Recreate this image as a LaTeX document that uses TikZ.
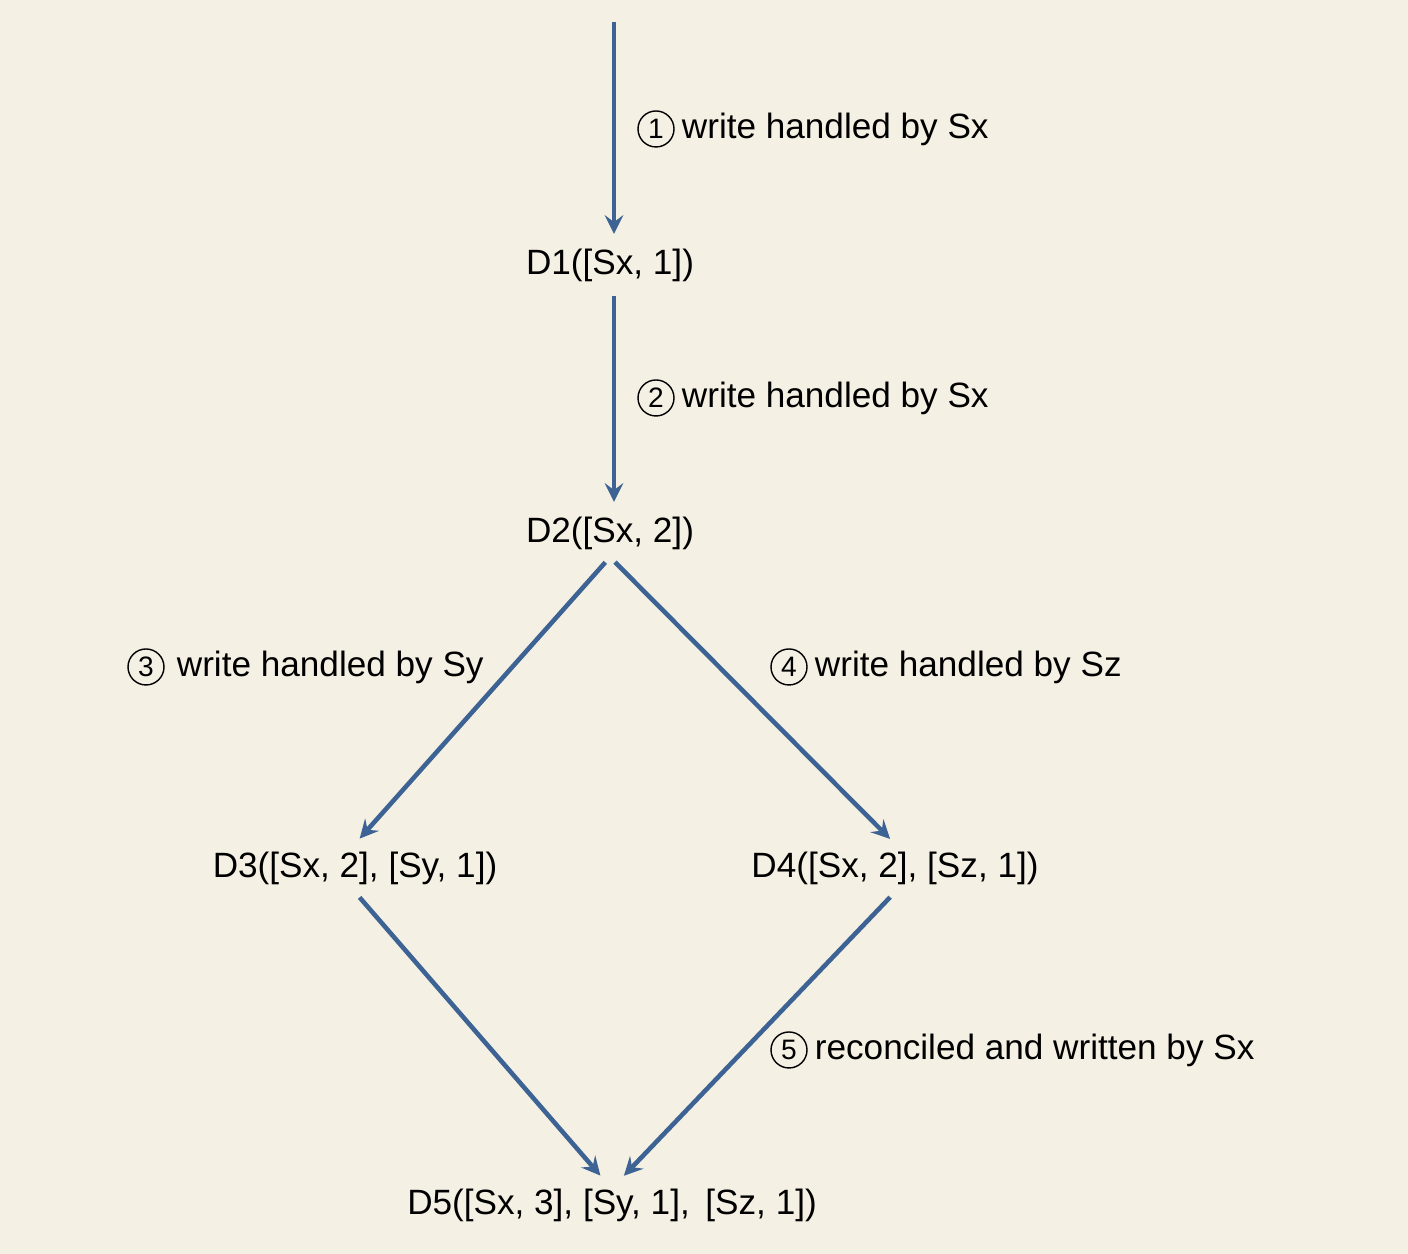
\documentclass[tikz,border=0pt]{standalone}
\usepackage{fontspec}
\setmainfont{Liberation Sans}
\usetikzlibrary{positioning}
\definecolor{bgcol}{HTML}{F5F0E4}
\definecolor{arrcol}{HTML}{3C6394}
\begin{document}
\begin{tikzpicture}[>=stealth,font=\fontsize{10}{12}\selectfont,
    version/.style={inner sep=2pt},
    flow/.style={->,arrcol,line width=1.3pt,shorten >=2pt,shorten <=2pt},
    stepnum/.style={circle,draw,thin,minimum size=0.36cm,inner sep=0pt,font=\fontsize{8}{9}\selectfont},
    steptext/.style={right=0.03cm of #1,inner sep=1pt}]
        \fill[bgcol] (0,0) rectangle (14.08,12.54);
        \useasboundingbox (0,0) rectangle (14.08,12.54);

        \coordinate (start) at (6.14,12.39);
        \node[version] (d1) at (6.10,9.89) {D1([Sx, 1])};
        \node[version] (d2) at (6.10,7.21) {D2([Sx, 2])};
        \node[version] (d3) at (3.55,3.86) {D3([Sx, 2], [Sy, 1])};
        \node[version] (d4) at (8.95,3.86) {D4([Sx, 2], [Sz, 1])};
        \node[version] (d5) at (6.12,0.49) {D5([Sx, 3], [Sy, 1],\, [Sz, 1])};

        \path[flow] (start) edge (d1.north -| start)
                    (d1.south -| start) edge (d2.north -| start)
                    (d2.south) edge (d3.north)
                              edge (d4.north)
                    (d3.south) edge ([xshift=-2pt]d5.north)
                    (d4.south) edge ([xshift=2pt]d5.north);

        % step labels
        \node[stepnum] (n1) at (6.56,11.25) {1};
        \node[steptext=n1] (t1) {write handled by Sx};
        \node[stepnum] (n2) at (6.56,8.56) {2};
        \node[steptext=n2] (t2) {write handled by Sx};
        \node[stepnum] (n3) at (1.46,5.87) {3};
        \node[steptext=n3,right=0.08cm of n3] (t3) {write handled by Sy};
        \node[stepnum] (n4) at (7.89,5.87) {4};
        \node[steptext=n4] (t4) {write handled by Sz};
        \node[stepnum] (n5) at (7.89,2.04) {5};
        \node[steptext=n5] (t5) {reconciled and written by Sx};
    \end{tikzpicture}
\end{document}
